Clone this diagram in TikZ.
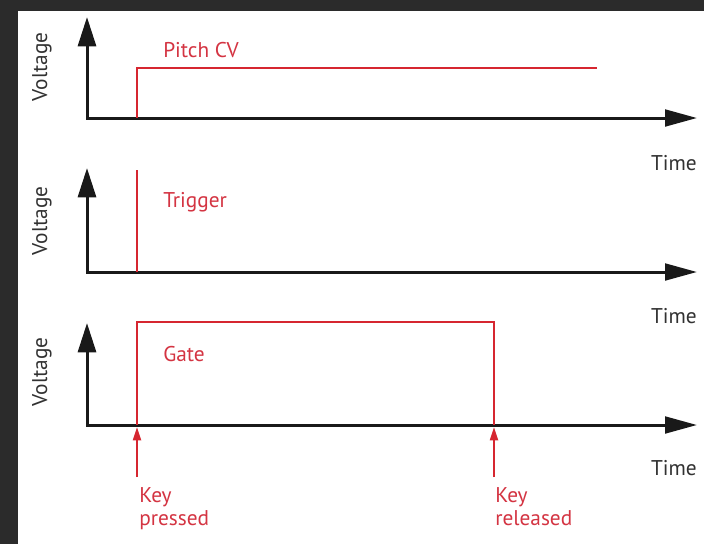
\documentclass[tikz,border=0pt]{standalone}
\usepackage{fontspec}
\setmainfont{PT Sans}
\usetikzlibrary{arrows.meta, positioning}

\definecolor{framegrey}{RGB}{43,43,43}
\definecolor{sigred}{RGB}{214,38,48}
\definecolor{labred}{RGB}{212,52,66}
\definecolor{axisblack}{RGB}{25,25,25}
\definecolor{labgrey}{RGB}{50,50,50}

\tikzset{
  axis/.style={line width=2.25pt, draw=axisblack,
    {Triangle[length=22pt,width=13.5pt]}-{Triangle[length=24pt,width=12.5pt]}},
  signal/.style={line width=1.4pt, draw=sigred},
  keyarrow/.style={line width=1.4pt, draw=sigred, -{Triangle[length=10pt,width=6pt]}},
  siglabel/.style={text=labred, font=\fontsize{16}{17.5}\selectfont, inner sep=0pt},
  axislabel/.style={text=labgrey, font=\fontsize{16}{17.5}\selectfont, inner sep=0pt}
}

\begin{document}
\begin{tikzpicture}[x=0.75pt, y=-0.75pt]

    % Dark frame round the white sheet
    \fill[framegrey] (0,0) rectangle (704,544);
    \fill[white] (18,11) rectangle (704,544);
    \useasboundingbox (0,0) rectangle (704,544);

    % Top panel: pitch CV steps up when the key is pressed
    \coordinate (v1) at (87,17);
    \coordinate (o1) at (87,118);
    \coordinate (t1) at (697,118);
    \draw[axis] (v1) -- (o1) -- (t1);
    \draw[signal] (137,118) -- (137,68) -- (597,68);
    \node[siglabel, anchor=base west] (pitch) at (163,57) {Pitch CV};
    \node[axislabel, rotate=90] (volt1) at (42,67) {Voltage};
    \node[axislabel, anchor=base east] (time1) at (697,170) {Time};

    % Middle panel: short trigger pulse
    \coordinate (v2) at (87,168);
    \coordinate (o2) at (87,272);
    \coordinate (t2) at (697,272);
    \draw[axis] (v2) -- (o2) -- (t2);
    \draw[signal] (137,272) -- (137,170);
    \node[siglabel, anchor=base west] (trig) at (163,207) {Trigger};
    \node[axislabel, rotate=90] (volt2) at (42,221) {Voltage};
    \node[axislabel, anchor=base east] (time2) at (697,323) {Time};

    % Bottom panel: gate held while the key is down
    \coordinate (v3) at (87,323);
    \coordinate (o3) at (87,425);
    \coordinate (t3) at (697,425);
    \draw[axis] (v3) -- (o3) -- (t3);
    \draw[signal] (137,425) -- (137,322) -- (494,322) -- (494,425);
    \node[siglabel, anchor=base west] (gate) at (163,361) {Gate};
    \node[axislabel, rotate=90] (volt3) at (42,372) {Voltage};
    \node[axislabel, anchor=base east] (time3) at (697,475) {Time};

    % Key events marked under the time axis
    \coordinate (kp) at (137,477);
    \coordinate (kr) at (494,477);
    \draw[keyarrow] (kp) -- (137,427);
    \draw[keyarrow] (kr) -- (494,427);
    \node[siglabel, anchor=north west, align=left] (press) at (139,487) {Key\\pressed};
    \node[siglabel, anchor=north west, align=left] (release) at (495,487) {Key\\released};

\end{tikzpicture}
\end{document}
